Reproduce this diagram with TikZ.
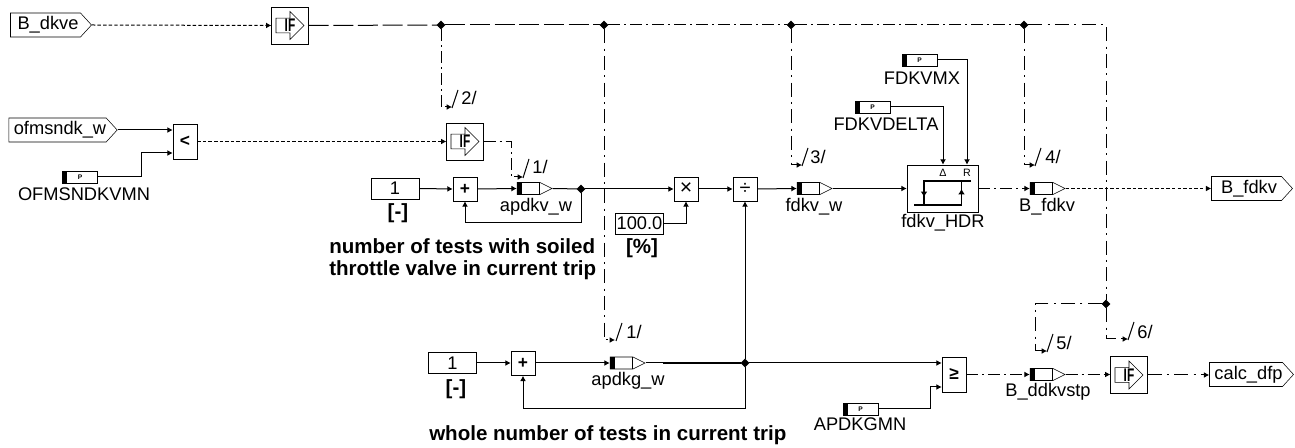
\documentclass[tikz,border=0pt]{standalone}
\usepackage{fontspec}
\setmainfont{Liberation Sans}
\usetikzlibrary{shapes.geometric,shapes.symbols,calc,arrows.meta}
\newcommand{\blackbar}[1]{\fill ([yshift=4.5pt]#1.west) rectangle ([xshift=3.75pt,yshift=-4.5pt]#1.west);}
\newcommand{\measbar}[1]{\blackbar{#1}\draw ([xshift=17.25pt,yshift=4.5pt]#1.west) -- ([xshift=17.25pt,yshift=-4.5pt]#1.west);}
\newcommand{\ifarrow}[1]{\draw[shift={(#1.center)}] (-10.5pt,-5.6pt) -- (0pt,-5.6pt) -- (0pt,-10.5pt) -- (10.5pt,0pt) -- (0pt,10.5pt) -- (0pt,5.6pt) -- (-10.5pt,5.6pt) -- cycle;}
\tikzset{
    lbl/.style={font=\fontsize{13.7}{15}\selectfont, inner sep=0pt},
    note/.style={font=\fontsize{15.4}{16.5}\selectfont\bfseries, inner sep=0pt, align=left},
    portbox/.style={draw, signal, signal to=east, signal pointer angle=95, fill=white, inner sep=0pt, minimum width=60.75pt, minimum height=18pt, font=\fontsize{13.7}{15}\selectfont, execute at begin node={\hspace{3.75pt}}},
    constbox/.style={draw, rectangle, fill=white, inner sep=0pt, minimum width=36pt, minimum height=15.75pt, font=\fontsize{13.7}{15}\selectfont},
    opbox/.style={draw, rectangle, fill=white, inner sep=0pt, minimum width=18pt, minimum height=18pt, font=\fontsize{13}{15}\selectfont\bfseries},
    cmpbox/.style={opbox, minimum height=26.25pt},
    ifblock/.style={draw, rectangle, fill=white, inner sep=0pt, minimum size=27.5pt, font=\fontsize{13.7}{15}\selectfont\bfseries},
    parambox/.style={draw, rectangle, fill=white, inner sep=0pt, minimum width=26.25pt, minimum height=9pt, font=\fontsize{5}{5}\selectfont\bfseries},
    meas/.style={draw, signal, signal to=east, signal pointer angle=53, fill=white, inner sep=0pt, minimum width=26.25pt, minimum height=9pt},
    junc/.style={draw, diamond, fill=black, inner sep=0pt, minimum size=6pt},
    sig/.style={line width=0.75pt, -{Latex[length=4pt,width=4.4pt]}},
    wire/.style={line width=0.75pt},
    dotsig/.style={dash pattern=on 2.6pt off 1.6pt},
    longsig/.style={dash pattern=on 15pt off 3.5pt},
    mixsig/.style={dash pattern=on 9pt off 3pt on 1.5pt off 3pt},
    chainsig/.style={dash pattern=on 10.5pt off 4pt on 1.5pt off 4pt},
}
\begin{document}
\begin{tikzpicture}[x=0.75pt,y=-0.75pt]
    \useasboundingbox (0,0) rectangle (1295,448);

    % Inputs and top enable
    \node[portbox] (dkve) at (45.5,25) {B\_dkve};
    \node[ifblock] (ifTop) at (290,25.5) {\scalebox{0.65}[1]{IF}};
    \node[junc] (jA) at (441,25) {};
    \node[junc] (jB) at (604,25) {};
    \node[junc] (jC) at (791,25) {};
    \node[junc] (jD) at (1024,25) {};
    \coordinate (cornerTop) at (1106,25);
    \node[junc] (jE) at (1106,304) {};

    \node[portbox, minimum width=78.75pt] (msndk) at (57.5,130) {ofmsndk\_w};
    \node[parambox] (pMn) at (80,177) {P};
    \node[lbl] (pMnText) at (84,194) {OFMSNDKVMN};
    \node[cmpbox] (cmpLt) at (185,141.5) {<};
    \node[ifblock] (ifMid) at (465,141.5) {\scalebox{0.65}[1]{IF}};

    % Soiled valve counter
    \node[constbox] (oneA) at (395,188.5) {1};
    \node[note] (unitA) at (398,213) {[-]};
    \node[opbox] (addA) at (465,189) {+};
    \node[meas] (apdkv) at (528.5,188.5) {};
    \node[lbl] (apdkvText) at (536,207) {apdkv\_w};
    \node[junc] (jF) at (581,189) {};
    \node[note, anchor=west] (noteA) at (329,259) {number of tests with soiled\\throttle valve in current trip};
    \node[constbox] (hundred) at (639.5,223.5) {100.0};
    \node[note] (unitB) at (642,248) {[\%]};
    \node[opbox, font=\fontsize{16}{16}\selectfont] (mulBox) at (686,189) {×};
    \node[opbox, font=\fontsize{15}{15}\selectfont] (divBox) at (745,189) {÷};
    \node[meas] (fdkv) at (808.5,188.5) {};
    \node[lbl] (fdkvText) at (814,207) {fdkv\_w};

    % Hysteresis block
    \node[parambox] (pMx) at (919.5,60) {P};
    \node[lbl] (pMxText) at (922,78) {FDKVMX};
    \node[parambox] (pDelta) at (872.5,107) {P};
    \node[lbl] (pDeltaText) at (886,124) {FDKVDELTA};
    \node[draw, rectangle, fill=white, inner sep=0pt, minimum width=53.25pt, minimum height=35.25pt] (hdr) at (942.5,188.5) {};
    \node[lbl] (hdrText) at (943,223) {fdkv\_HDR};
    \node[lbl, font=\fontsize{8}{8}\selectfont] (hdrD) at (943,173) {Δ};
    \node[lbl, font=\fontsize{8}{8}\selectfont] (hdrR) at (967,173) {R};
    \draw[line width=1.1pt] (971,181) -- (924,181) -- (924,205);
    \draw[line width=1.1pt] (914,205) -- (961.5,205) -- (961.5,181);
    \draw[-{Latex[length=4pt,width=5pt]}, line width=1.1pt] (924,185) -- (924,197);
    \draw[-{Latex[length=4pt,width=5pt]}, line width=1.1pt] (961.5,201) -- (961.5,189);
    \node[meas] (bfdkv) at (1041.5,188.5) {};
    \node[lbl] (bfdkvText) at (1047,207) {B\_fdkv};
    \node[portbox] (outFdkv) at (1246.5,188.5) {B\_fdkv};

    % Whole number counter
    \node[constbox] (oneB) at (452.5,363) {1};
    \node[note] (unitC) at (456,389) {[-]};
    \node[opbox] (addB) at (523,363.5) {+};
    \node[meas] (apdkg) at (621.5,363) {};
    \node[lbl] (apdkgText) at (628,381) {apdkg\_w};
    \node[junc] (jG) at (745,363) {};
    \node[note, anchor=west] (noteB) at (429,435) {whole number of tests in current trip};
    \node[cmpbox] (cmpGe) at (954,374.5) {≥};
    \node[parambox] (pGmn) at (860.5,409) {P};
    \node[lbl] (pGmnText) at (860,424) {APDKGMN};
    \node[meas] (ddkv) at (1041.5,374.5) {};
    \node[lbl] (ddkvText) at (1048,392) {B\_ddkvstp};
    \node[ifblock] (ifOut) at (1129,375) {\scalebox{0.65}[1]{IF}};
    \node[portbox] (outCalc) at (1246,374.5) {calc\_dfp};

    % Block details
    \ifarrow{ifTop} \ifarrow{ifMid} \ifarrow{ifOut}
    \blackbar{pMn} \blackbar{pMx} \blackbar{pDelta} \blackbar{pGmn}
    \measbar{apdkv} \measbar{fdkv} \measbar{bfdkv} \measbar{apdkg} \measbar{ddkv}

    % Free ends of the tagged branches
    \coordinate (tagTwo) at (452,107);
    \coordinate (tagOneA) at (523,177);
    \coordinate (tagThree) at (802,165);
    \coordinate (tagFour) at (1035,165);
    \coordinate (tagOneB) at (615,340);
    \coordinate (tagFive) at (1047,351);
    \coordinate (tagSix) at (1128,339);
    \draw[wire] (tagTwo) ++(0,1) -- ++(6,-18);
    \draw[wire] (tagOneA) ++(0,1) -- ++(6,-19);
    \draw[wire] (tagThree) ++(0,1) -- ++(6,-18);
    \draw[wire] (tagFour) ++(0,1) -- ++(6,-18);
    \draw[wire] (tagOneB) ++(1,1) -- ++(6,-18);
    \draw[wire] (tagFive) ++(0,1) -- ++(6,-18);
    \draw[wire] (tagSix) ++(0,1) -- ++(6,-18);
    \node[lbl] (txtTwo) at (469,98) {2/};
    \node[lbl] (txtOneA) at (540,167) {1/};
    \node[lbl] (txtThree) at (818,157) {3/};
    \node[lbl] (txtFour) at (1053,157) {4/};
    \node[lbl] (txtOneB) at (634,332) {1/};
    \node[lbl] (txtFive) at (1064,343) {5/};
    \node[lbl] (txtSix) at (1145,332) {6/};

    % Connectors
    \draw[sig, dotsig] (dkve.east) -- (ifTop.west);
    \draw[wire, longsig] (ifTop.east) -- (jA);
    \draw[wire, longsig] (jA) -- (jB);
    \draw[wire, mixsig] (jB) -- (jC);
    \draw[wire, mixsig] (jC) -- (jD);
    \draw[wire, chainsig] (jD) -- (cornerTop) -- (jE);

    \draw[sig, mixsig] (jA) |- (tagTwo);
    \draw[sig, chainsig] (jB) |- (tagOneB);
    \draw[sig, chainsig] (jC) |- (tagThree);
    \draw[sig, chainsig] (jD) |- (tagFour);
    \draw[sig, chainsig] (jE) -| (1035,351) -- (tagFive);
    \draw[sig, chainsig] (jE) |- (tagSix);
    \draw[sig, mixsig] (ifMid.east) -| (511,177) -- (tagOneA);

    \draw[sig] (msndk.east) -- (msndk.east -| cmpLt.west);
    \draw[sig] (pMn.east) -| (141,153) -- (cmpLt.west |- 0,153);
    \draw[sig, dotsig] (cmpLt.east) -- (ifMid.west);

    \draw[sig] (oneA.east) -- (addA.west);
    \draw[sig] (addA.east) -- (apdkv.west);
    \draw[wire] (apdkv.east) -- (jF);
    \draw[sig] (jF) |- (465,223) -- (addA.south);
    \draw[sig] (jF) -- (mulBox.west);
    \draw[sig] (hundred.east) -| (mulBox.south);
    \draw[sig] (mulBox.east) -- (divBox.west);
    \draw[sig] (divBox.east) -- (fdkv.west);
    \draw[sig] (fdkv.east) -- (hdr.west |- fdkv.east);
    \draw[sig] (pMx.east) -| (hdrR.center |- hdr.north);
    \draw[sig] (pDelta.east) -| (hdrD.center |- hdr.north);
    \draw[sig, mixsig] (hdr.east |- bfdkv.west) -- (bfdkv.west);
    \draw[sig, dotsig] (bfdkv.east) -- (outFdkv.west |- bfdkv.east);

    \draw[sig] (oneB.east) -- (addB.west |- oneB.east);
    \draw[sig] (addB.east |- apdkg.west) -- (apdkg.west);
    \draw[wire] (apdkg.east) -- (jG);
    \draw[line width=1.2pt] (663,363) -- (jG);
    \draw[sig] (jG) |- (523,409) -- (addB.south);
    \draw[sig] (jG) -- (divBox.south);
    \draw[sig] (jG) -- (jG -| cmpGe.west);
    \draw[sig] (pGmn.east) -| (930,387) -- (cmpGe.west |- 0,387);
    \draw[sig, mixsig] (cmpGe.east) -- (ddkv.west);
    \draw[sig, mixsig] (ddkv.east) -- (ifOut.west |- ddkv.east);
    \draw[sig, chainsig] (ifOut.east) -- (outCalc.west |- ifOut.east);
\end{tikzpicture}
\end{document}
